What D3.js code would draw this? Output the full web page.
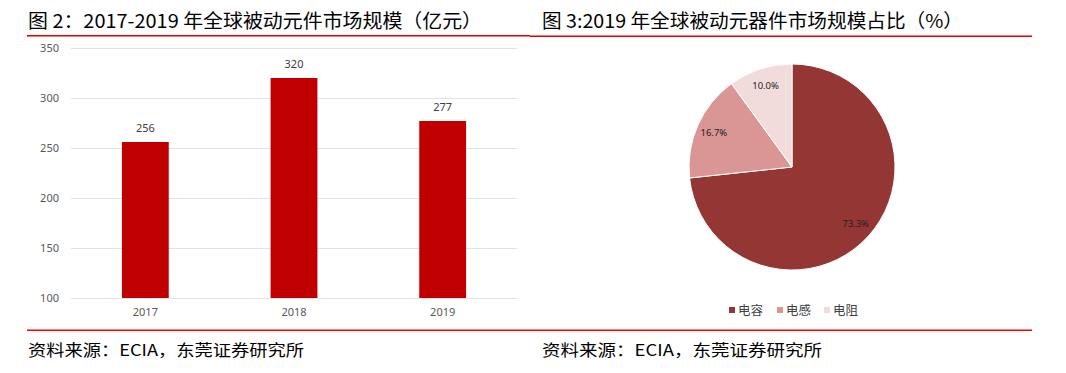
<!DOCTYPE html>
<html><head><meta charset="utf-8">
<script src="https://cdn.jsdelivr.net/npm/d3@7"></script>
<style>body{margin:0;background:#fff}svg{display:block}</style>
</head><body>
<svg id="c" width="1066" height="373"></svg>
<script>
const years = ["2017", "2018", "2019"];
const marketSize = [256, 320, 277];
const yTicks = [100, 150, 200, 250, 300, 350];
const pieLabels = ["电容", "电感", "电阻"];
const pieValues = [73.3, 16.7, 10.0];
const pieColors = ["#943634", "#D99694", "#F2DCDB"];
const title1 = "图 2：2017-2019 年全球被动元件市场规模（亿元）";
const title2 = "图 3:2019 年全球被动元器件市场规模占比（%）";
const source = "资料来源：ECIA，东莞证券研究所";

const svg = d3.select("#c");
const cjk = "'Noto Sans CJK SC', sans-serif";
const lat = "'Noto Sans', 'Open Sans', sans-serif";

// titles
svg.append("text").attr("x", 28).attr("y", 28).attr("font-family", cjk).attr("font-size", 19)
  .attr("fill", "#000").attr("textLength", 454).attr("lengthAdjust", "spacingAndGlyphs").text(title1);
svg.append("text").attr("x", 542).attr("y", 28).attr("font-family", cjk).attr("font-size", 19)
  .attr("fill", "#000").attr("textLength", 421).attr("lengthAdjust", "spacingAndGlyphs").text(title2);
svg.append("rect").attr("x", 27).attr("width", 503).attr("y", 35).attr("height", 1.5).attr("fill", "#E60000");
svg.append("rect").attr("x", 530).attr("width", 502).attr("y", 35.5).attr("height", 1.5).attr("fill", "#E60000");
svg.append("rect").attr("x", 27).attr("width", 1005).attr("y", 329.5).attr("height", 1.5).attr("fill", "#FF0000");
svg.append("text").attr("x", 28).attr("y", 356).attr("font-family", cjk).attr("font-size", 16)
  .attr("textLength", 276).attr("lengthAdjust", "spacingAndGlyphs").attr("fill", "#000").text(source);
svg.append("text").attr("x", 542).attr("y", 356).attr("font-family", cjk).attr("font-size", 16)
  .attr("textLength", 280).attr("lengthAdjust", "spacingAndGlyphs").attr("fill", "#000").text(source);

// bar chart
const x = d3.scaleBand().domain(years).range([71, 517]).paddingInner(0.685).paddingOuter(0.3425);
const y = d3.scaleLinear().domain([100, 350]).range([298, 48]);
const g = svg.append("g");
const yAxis = d3.axisLeft(y).tickValues(yTicks).tickSize(-(517 - 71)).tickPadding(12);
const ya = g.append("g").attr("transform", "translate(71,0)").call(yAxis);
ya.select(".domain").remove();
ya.selectAll(".tick line").attr("stroke", "#E3E3E3").attr("stroke-width", 1);
ya.selectAll(".tick text").attr("font-family", lat).attr("font-size", 11).attr("fill", "#595959");
const xAxis = d3.axisBottom(x).tickSize(0).tickPadding(10);
const xa = g.append("g").attr("transform", "translate(0,298)").call(xAxis);
xa.select(".domain").remove();
xa.selectAll(".tick text").attr("font-family", lat).attr("font-size", 11).attr("fill", "#595959");

g.selectAll("rect.bar").data(marketSize).join("rect").attr("class", "bar")
  .attr("x", (d, i) => x(years[i])).attr("width", x.bandwidth())
  .attr("y", d => y(d)).attr("height", d => y(100) - y(d)).attr("fill", "#C00000");
g.selectAll("text.val").data(marketSize).join("text").attr("class", "val")
  .attr("x", (d, i) => x(years[i]) + x.bandwidth() / 2).attr("y", d => y(d) - 10)
  .attr("text-anchor", "middle").attr("font-family", lat).attr("font-size", 11).attr("fill", "#404040")
  .text(d => d);

// pie
const cx = 792, cy = 167, r = 103;
const pie = d3.pie().sort(null).value(d => d);
const arcs = pie(pieValues);
const arc = d3.arc().innerRadius(0).outerRadius(r);
const labArc = d3.arc().innerRadius(r * 0.83).outerRadius(r * 0.83);
const pg = svg.append("g").attr("transform", `translate(${cx},${cy})`);
pg.selectAll("path").data(arcs).join("path").attr("d", arc)
  .attr("fill", (d, i) => pieColors[i]).attr("stroke", "#fff").attr("stroke-width", 1);
pg.selectAll("text").data(arcs).join("text")
  .attr("transform", d => `translate(${labArc.centroid(d)})`)
  .attr("text-anchor", "middle").attr("dy", "0.35em")
  .attr("font-family", lat).attr("font-size", 9.5).attr("fill", "#222")
  .text(d => d.value.toFixed(1) + "%");

// legend
const legX = [729, 777, 824];
const lg = svg.append("g");
pieLabels.forEach((lab, i) => {
  lg.append("rect").attr("x", legX[i]).attr("y", 307).attr("width", 6).attr("height", 6).attr("fill", pieColors[i]);
  lg.append("text").attr("x", legX[i] + 9).attr("y", 314.5).attr("font-family", cjk).attr("font-size", 12.5)
    .attr("fill", "#404040").text(lab);
});
</script>
</body></html>
